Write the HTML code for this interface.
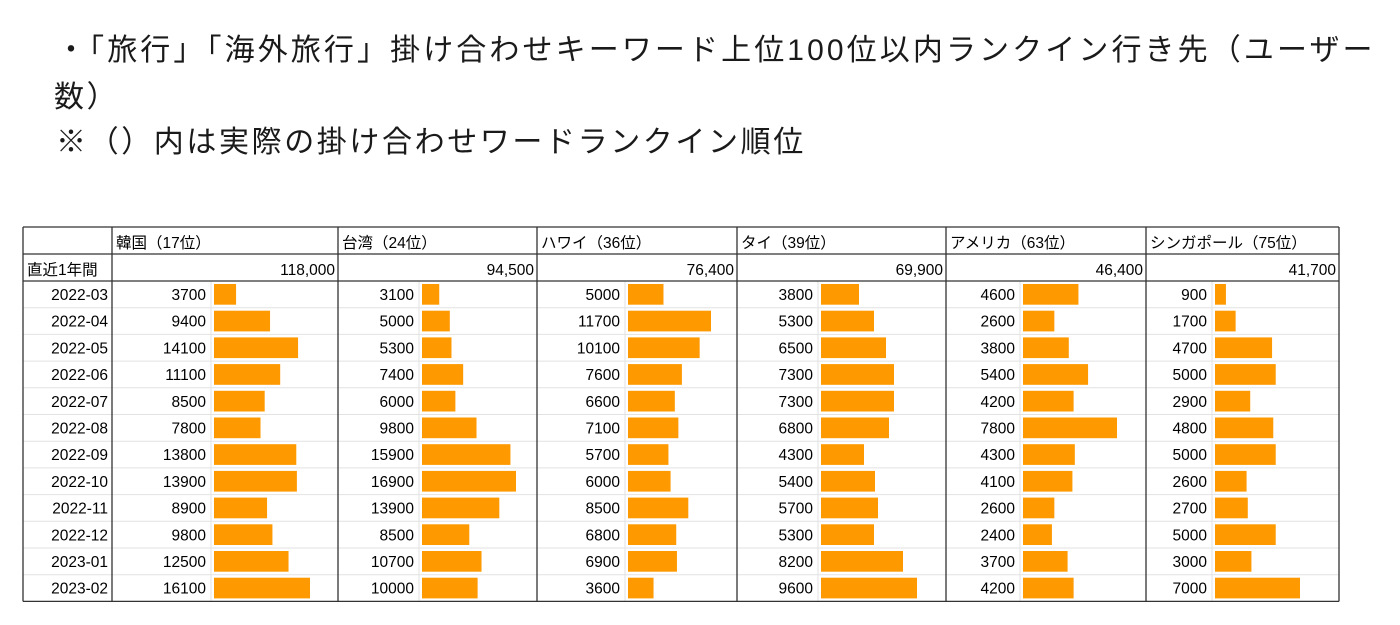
<!DOCTYPE html>
<html><head><meta charset="utf-8"><style>
body{margin:0;width:1400px;height:625px;background:#fff;overflow:hidden;font-family:"Liberation Sans","Noto Sans CJK JP",sans-serif;color:#1a1a1a}
.t{position:absolute;font-size:30px;white-space:nowrap;letter-spacing:2.6px}
svg text{font-family:"Liberation Sans","Noto Sans CJK JP",sans-serif}
</style></head><body>
<div class="t" style="left:56px;top:25px;letter-spacing:3.1px">・「旅行」「海外旅行」掛け合わせキーワード上位100位以内ランクイン行き先（ユーザー</div>
<div class="t" style="left:54px;top:72px">数）</div>
<div class="t" style="left:56px;top:117px">※（）内は実際の掛け合わせワードランクイン順位</div>
<svg id="tbl" width="1400" height="625" style="position:absolute;left:0;top:0"></svg>
<script>
const months=["2022-03","2022-04","2022-05","2022-06","2022-07","2022-08","2022-09","2022-10","2022-11","2022-12","2023-01","2023-02"];
const countries=["韓国（17位）","台湾（24位）","ハワイ（36位）","タイ（39位）","アメリカ（63位）","シンガポール（75位）"];
const totals=["118,000","94,500","76,400","69,900","46,400","41,700"];
const korea=[3700,9400,14100,11100,8500,7800,13800,13900,8900,9800,12500,16100];
const taiwan=[3100,5000,5300,7400,6000,9800,15900,16900,13900,8500,10700,10000];
const hawaii=[5000,11700,10100,7600,6600,7100,5700,6000,8500,6800,6900,3600];
const thai=[3800,5300,6500,7300,7300,6800,4300,5400,5700,5300,8200,9600];
const america=[4600,2600,3800,5400,4200,7800,4300,4100,2600,2400,3700,4200];
const singapore=[900,1700,4700,5000,2900,4800,5000,2600,2700,5000,3000,7000];
const series=[korea,taiwan,hawaii,thai,america,singapore];
const ns="http://www.w3.org/2000/svg",svg=document.getElementById('tbl');
function mk(t,a,txt){const e=document.createElementNS(ns,t);for(const k in a)e.setAttribute(k,a[k]);if(txt!=null)e.textContent=txt;svg.appendChild(e);return e;}
const L=23,R=1339,T=227,H1=254,H2=281,rowH=26.7;
const groups=[112,338,537,737,946,1146,1339];
const barStart=[211,419,625,818,1020,1212];
const maxW=[96,94,83,96,94,85];
const bottom=H2+rowH*12;
for(let i=0;i<=12;i++){const y=H2+rowH*i;const l=mk('line',{x1:L,x2:R,y1:y,y2:y,stroke:'#e2e2e2','stroke-width':1});}
barStart.forEach(x=>{const l=mk('line',{x1:x,x2:x,y1:H2,y2:bottom,stroke:'#e2e2e2'});});
[T,H1,H2].forEach(y=>{const l=mk('line',{x1:L,x2:R,y1:y,y2:y,stroke:'#333','stroke-width':1.3});});
mk('line',{x1:L,x2:R,y1:bottom,y2:bottom,stroke:'#333','stroke-width':1.3});
[L].concat(groups).forEach(x=>{const l=mk('line',{x1:x,x2:x,y1:T,y2:bottom,stroke:'#333','stroke-width':1.3});});
let e=mk('text',{x:27,y:275,'font-size':15.5},'直近1年間');
countries.forEach((c,i)=>{
 let t=mk('text',{x:groups[i]+4,y:248,'font-size':15.5},c);
 t=mk('text',{x:groups[i+1]-3,y:275,'font-size':15.5,'text-anchor':'end'},totals[i]);
 const vals=series[i],mx=Math.max(...vals);
 vals.forEach((v,j)=>{
  const y=H2+rowH*j;
  let n=mk('text',{x:barStart[i]-5,y:y+19,'font-size':15.5,'text-anchor':'end'},String(v));
  let b=mk('rect',{x:barStart[i]+3,y:y+3,width:v/mx*maxW[i],height:rowH-6,fill:'#ff9900'});
 });
});
months.forEach((m,j)=>{const t=mk('text',{x:108,y:H2+rowH*j+19,'font-size':15.5,'text-anchor':'end'},m);});
</script>
</body></html>
